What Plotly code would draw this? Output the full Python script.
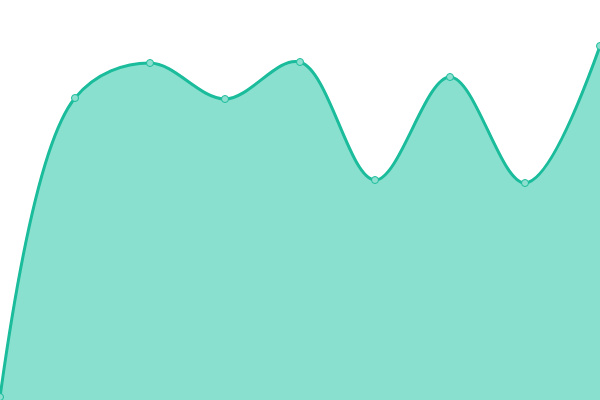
import plotly.graph_objects as go

x_vals = [0, 1, 2, 3, 4, 5, 6, 7, 8]
y_vals = [3, 302, 337, 301, 338, 220, 323, 217, 354]

fig = go.Figure()
fig.add_trace(go.Scatter(
    x=x_vals,
    y=y_vals,
    mode="lines+markers",
    line=dict(color="#1abc9c", width=3, shape="spline", smoothing=1),
    marker=dict(size=7, color="#8de0cf", line=dict(color="#1abc9c", width=1)),
    fill="tozeroy",
    fillcolor="#89e0cf",
    hoverinfo="skip",
))

fig.update_layout(
    width=600,
    height=400,
    margin=dict(l=0, r=0, t=0, b=0),
    paper_bgcolor="white",
    plot_bgcolor="white",
    showlegend=False,
    xaxis=dict(range=[0, 8], visible=False),
    yaxis=dict(range=[0, 400], visible=False),
)

# page body has an 8px default margin, drop it so the chart fills the window
fig.write_html("out.html", config={"displayModeBar": False},
               post_script="document.body.style.margin='0';")
